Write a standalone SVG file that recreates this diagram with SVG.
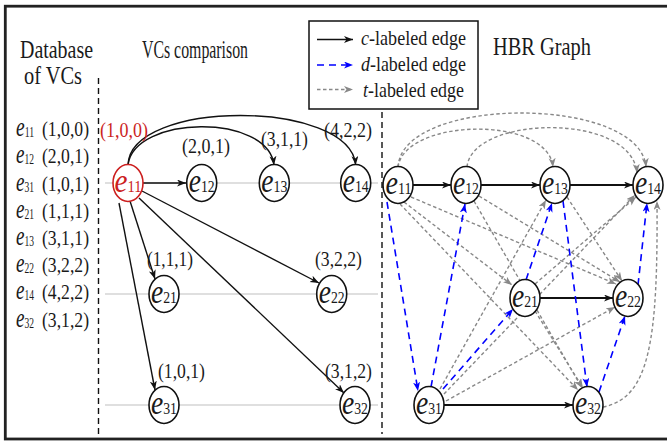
<svg xmlns="http://www.w3.org/2000/svg" width="667" height="442" viewBox="0 0 667 442">
<defs>
  <marker id="ahK" markerUnits="userSpaceOnUse" markerWidth="10" markerHeight="8" refX="9" refY="3.5" orient="auto"><path d="M0,0 L9,3.5 L0,7 L2.5,3.5 z" fill="#111"/></marker>
  <marker id="ahB" markerUnits="userSpaceOnUse" markerWidth="10" markerHeight="8" refX="9" refY="3.5" orient="auto"><path d="M0,0 L9,3.5 L0,7 L2.5,3.5 z" fill="#0000ff"/></marker>
  <marker id="ahG" markerUnits="userSpaceOnUse" markerWidth="10" markerHeight="8" refX="9" refY="3.5" orient="auto"><path d="M0,0 L9,3.5 L0,7 L2.5,3.5 z" fill="#888"/></marker>
</defs>
<style>
  text{font-family:"Liberation Serif","Times New Roman",serif;fill:#1a1a1a}
  .ttl{font-size:25px}
  .lg{font-size:21px}
  .vc{font-size:22px}
  .vi{font-size:28px;font-style:italic}
  .vs{font-size:14px}
  .lab{font-size:21px}
  .it{font-style:italic}
  .red{fill:#cc1f1f}
  .nd ellipse{fill:#fff;stroke:#111;stroke-width:1.6}
  .nd ellipse.hl{stroke:#cc1f1f}
  .nl{font-size:17px;text-anchor:middle}
  .nl .ev{font-size:34px;font-style:italic}
  .frame{fill:none;stroke:#222;stroke-width:2.8}
  .row{stroke:#d4d4d4;stroke-width:1.6}
  .sep{stroke:#111;stroke-width:1.4;stroke-dasharray:6 4;fill:none}
  .c{stroke:#111;stroke-width:1.4;fill:none;marker-end:url(#ahK)}
  .cc{stroke-width:2}
  .d{stroke:#0000ff;stroke-width:1.6;stroke-dasharray:7 5;fill:none;marker-end:url(#ahB)}
  .t{stroke:#888;stroke-width:1.4;stroke-dasharray:3.5 2.5;fill:none;marker-end:url(#ahG)}
</style>

<rect class="frame" x="5.3" y="6.2" width="665" height="432.8"/>

<!-- column separators -->
<g id="separators">
  <line class="sep" x1="98.5" y1="78" x2="98.5" y2="434"/>
  <line class="sep" x1="382" y1="112" x2="382" y2="434"/>
</g>

<!-- headings -->
<g id="headings">
  <text class="ttl" x="20" y="58" textLength="73" lengthAdjust="spacingAndGlyphs">Database</text>
  <text class="ttl" x="24" y="84" textLength="58" lengthAdjust="spacingAndGlyphs">of VCs</text>
  <text class="ttl" x="142" y="58" textLength="106" lengthAdjust="spacingAndGlyphs">VCs comparison</text>
  <text class="ttl" x="493" y="55" textLength="98" lengthAdjust="spacingAndGlyphs">HBR Graph</text>
</g>

<!-- vector clock table -->
<g id="vc-table">
  <text x="16" y="136" textLength="18" lengthAdjust="spacingAndGlyphs"><tspan class="vi">e</tspan><tspan class="vs" dy="1">11</tspan></text>
  <text class="vc" x="42" y="136" textLength="47" lengthAdjust="spacingAndGlyphs">(1,0,0)</text>
  <text x="16" y="163" textLength="18" lengthAdjust="spacingAndGlyphs"><tspan class="vi">e</tspan><tspan class="vs" dy="1">12</tspan></text>
  <text class="vc" x="42" y="163" textLength="47" lengthAdjust="spacingAndGlyphs">(2,0,1)</text>
  <text x="16" y="191" textLength="18" lengthAdjust="spacingAndGlyphs"><tspan class="vi">e</tspan><tspan class="vs" dy="1">31</tspan></text>
  <text class="vc" x="42" y="191" textLength="47" lengthAdjust="spacingAndGlyphs">(1,0,1)</text>
  <text x="16" y="218" textLength="18" lengthAdjust="spacingAndGlyphs"><tspan class="vi">e</tspan><tspan class="vs" dy="1">21</tspan></text>
  <text class="vc" x="42" y="218" textLength="47" lengthAdjust="spacingAndGlyphs">(1,1,1)</text>
  <text x="16" y="245" textLength="18" lengthAdjust="spacingAndGlyphs"><tspan class="vi">e</tspan><tspan class="vs" dy="1">13</tspan></text>
  <text class="vc" x="42" y="245" textLength="47" lengthAdjust="spacingAndGlyphs">(3,1,1)</text>
  <text x="16" y="272" textLength="18" lengthAdjust="spacingAndGlyphs"><tspan class="vi">e</tspan><tspan class="vs" dy="1">22</tspan></text>
  <text class="vc" x="42" y="272" textLength="47" lengthAdjust="spacingAndGlyphs">(3,2,2)</text>
  <text x="16" y="299" textLength="18" lengthAdjust="spacingAndGlyphs"><tspan class="vi">e</tspan><tspan class="vs" dy="1">14</tspan></text>
  <text class="vc" x="42" y="299" textLength="47" lengthAdjust="spacingAndGlyphs">(4,2,2)</text>
  <text x="16" y="327" textLength="18" lengthAdjust="spacingAndGlyphs"><tspan class="vi">e</tspan><tspan class="vs" dy="1">32</tspan></text>
  <text class="vc" x="42" y="327" textLength="47" lengthAdjust="spacingAndGlyphs">(3,1,2)</text>
</g>

<!-- legend -->
<g id="legend">
  <rect x="309" y="21" width="169" height="88" fill="#fff" stroke="#111" stroke-width="1.5"/>
  <line class="c" x1="317" y1="39.5" x2="353" y2="39.5"/>
  <line class="d" x1="317" y1="65" x2="353" y2="65" stroke-dasharray="6 3"/>
  <line class="t" x1="317" y1="89.5" x2="353" y2="89.5" stroke-dasharray="3 2"/>
  <text class="lg" x="361" y="45" textLength="105" lengthAdjust="spacingAndGlyphs"><tspan class="it">c</tspan>-labeled edge</text>
  <text class="lg" x="361" y="71" textLength="105" lengthAdjust="spacingAndGlyphs"><tspan class="it">d</tspan>-labeled edge</text>
  <text class="lg" x="363" y="97" textLength="101" lengthAdjust="spacingAndGlyphs"><tspan class="it">t</tspan>-labeled edge</text>
</g>

<!-- comparison rows -->
<g id="rows">
  <line class="row" x1="105" y1="183" x2="378" y2="183"/>
  <line class="row" x1="105" y1="294" x2="378" y2="294"/>
  <line class="row" x1="105" y1="405" x2="378" y2="405"/>
</g>

<!-- connectors -->
<g id="connectors">
  <!-- comparison of e11 with every other event -->
  <path class="c" d="M143,183 L186,183"/>
  <path class="c" d="M128,165 C134,115 268,113 274,165"/>
  <path class="c" d="M128,165 C130,99 350,99 355.7,165"/>
  <path class="c" d="M130,201 L155,279"/>
  <path class="c" d="M119,203 L155,390"/>
  <path class="c" d="M142,191 L319,283"/>
  <path class="c" d="M139,198 L344,393"/>

  <!-- HBR: c-labeled -->
  <path class="c cc" d="M413,185 L451,185"/>
  <path class="c cc" d="M481,185 L540,185"/>
  <path class="c cc" d="M570,185 L633,185"/>
  <path class="c cc" d="M540,298 L613,298"/>
  <path class="c cc" d="M444,405 L573,405"/>

  <!-- HBR: t-labeled -->
  <path class="t" d="M398,167 C405,118 548,115 553,167"/>
  <path class="t" d="M398,167 C402,95 640,95 646,167"/>
  <path class="t" d="M467,167 C472,115 632,112 637,173"/>
  <path class="t" d="M404,202 L512,285"/>
  <path class="t" d="M411,197 L616,284"/>
  <path class="t" d="M400,204 L578,390"/>
  <path class="t" d="M479,196 L620,282"/>
  <path class="t" d="M474,201 L582,388"/>
  <path class="t" d="M567,197 L622,281"/>
  <path class="t" d="M535,284 L636,197"/>
  <path class="t" d="M535,311 L583,388"/>
  <path class="t" d="M440,389 L546,200"/>
  <path class="t" d="M444,394 L635,195"/>
  <path class="t" d="M446,401 L615,307"/>
  <path class="t" d="M603,407 C650,398 658,340 657,201"/>

  <!-- HBR: d-labeled -->
  <path class="d" d="M387,202 L418,391"/>
  <path class="d" d="M431,387 L465,204"/>
  <path class="d" d="M443,389 L513,309"/>
  <path class="d" d="M526,280 L552,203"/>
  <path class="d" d="M563,201 L587,387"/>
  <path class="d" d="M599,392 L625,316"/>
  <path class="d" d="M638,285 L647,203"/>
</g>

<!-- comparison nodes -->
<g id="cmp-e11" class="nd">
  <ellipse class="hl" cx="128" cy="183" rx="15" ry="18.5"/>
  <text class="nl red" x="128" y="192" textLength="27" lengthAdjust="spacingAndGlyphs"><tspan class="ev red">e</tspan>11</text>
</g>
<text class="lab red" x="100" y="137" textLength="48" lengthAdjust="spacingAndGlyphs">(1,0,0)</text>
<g id="cmp-e12" class="nd">
  <ellipse cx="201.7" cy="183" rx="15" ry="18.5"/>
  <text class="nl" x="201.7" y="192" textLength="26" lengthAdjust="spacingAndGlyphs"><tspan class="ev">e</tspan>12</text>
  <text class="lab" x="182" y="153" textLength="48" lengthAdjust="spacingAndGlyphs">(2,0,1)</text>
</g>
<g id="cmp-e13" class="nd">
  <ellipse cx="274.3" cy="183" rx="15" ry="18.5"/>
  <text class="nl" x="274.3" y="192" textLength="26" lengthAdjust="spacingAndGlyphs"><tspan class="ev">e</tspan>13</text>
  <text class="lab" x="261" y="146" textLength="47" lengthAdjust="spacingAndGlyphs">(3,1,1)</text>
</g>
<g id="cmp-e14" class="nd">
  <ellipse cx="355.7" cy="183" rx="15" ry="18.5"/>
  <text class="nl" x="355.7" y="192" textLength="26" lengthAdjust="spacingAndGlyphs"><tspan class="ev">e</tspan>14</text>
  <text class="lab" x="324" y="137" textLength="48" lengthAdjust="spacingAndGlyphs">(4,2,2)</text>
</g>
<g id="cmp-e21" class="nd">
  <ellipse cx="164" cy="294" rx="15" ry="18.5"/>
  <text class="nl" x="164" y="303" textLength="26" lengthAdjust="spacingAndGlyphs"><tspan class="ev">e</tspan>21</text>
  <text class="lab" x="147" y="266" textLength="46" lengthAdjust="spacingAndGlyphs">(1,1,1)</text>
</g>
<g id="cmp-e22" class="nd">
  <ellipse cx="331.7" cy="294" rx="15" ry="18.5"/>
  <text class="nl" x="331.7" y="303" textLength="26" lengthAdjust="spacingAndGlyphs"><tspan class="ev">e</tspan>22</text>
  <text class="lab" x="315" y="266" textLength="47" lengthAdjust="spacingAndGlyphs">(3,2,2)</text>
</g>
<g id="cmp-e31" class="nd">
  <ellipse cx="164" cy="405" rx="15" ry="18.5"/>
  <text class="nl" x="164" y="414" textLength="26" lengthAdjust="spacingAndGlyphs"><tspan class="ev">e</tspan>31</text>
  <text class="lab" x="158" y="378" textLength="47" lengthAdjust="spacingAndGlyphs">(1,0,1)</text>
</g>
<g id="cmp-e32" class="nd">
  <ellipse cx="355" cy="405" rx="15" ry="18.5"/>
  <text class="nl" x="355" y="414" textLength="26" lengthAdjust="spacingAndGlyphs"><tspan class="ev">e</tspan>32</text>
  <text class="lab" x="325" y="378" textLength="47" lengthAdjust="spacingAndGlyphs">(3,1,2)</text>
</g>

<!-- HBR graph nodes -->
<g id="hbr-e11" class="nd">
  <ellipse cx="398" cy="185" rx="15" ry="18.5"/>
  <text class="nl" x="398.5" y="194" textLength="26" lengthAdjust="spacingAndGlyphs"><tspan class="ev">e</tspan>11</text>
</g>
<g id="hbr-e12" class="nd">
  <ellipse cx="466" cy="185" rx="15" ry="18.5"/>
  <text class="nl" x="466" y="194" textLength="26" lengthAdjust="spacingAndGlyphs"><tspan class="ev">e</tspan>12</text>
</g>
<g id="hbr-e13" class="nd">
  <ellipse cx="555" cy="185" rx="15" ry="18.5"/>
  <text class="nl" x="555" y="194" textLength="26" lengthAdjust="spacingAndGlyphs"><tspan class="ev">e</tspan>13</text>
</g>
<g id="hbr-e14" class="nd">
  <ellipse cx="648" cy="185" rx="15" ry="18.5"/>
  <text class="nl" x="648" y="194" textLength="26" lengthAdjust="spacingAndGlyphs"><tspan class="ev">e</tspan>14</text>
</g>
<g id="hbr-e21" class="nd">
  <ellipse cx="525" cy="298" rx="15" ry="18.5"/>
  <text class="nl" x="525" y="307" textLength="26" lengthAdjust="spacingAndGlyphs"><tspan class="ev">e</tspan>21</text>
</g>
<g id="hbr-e22" class="nd">
  <ellipse cx="628" cy="298" rx="15" ry="18.5"/>
  <text class="nl" x="628" y="307" textLength="26" lengthAdjust="spacingAndGlyphs"><tspan class="ev">e</tspan>22</text>
</g>
<g id="hbr-e31" class="nd">
  <ellipse cx="429" cy="405" rx="15" ry="18.5"/>
  <text class="nl" x="429" y="414" textLength="26" lengthAdjust="spacingAndGlyphs"><tspan class="ev">e</tspan>31</text>
</g>
<g id="hbr-e32" class="nd">
  <ellipse cx="588" cy="405" rx="15" ry="18.5"/>
  <text class="nl" x="588" y="414" textLength="26" lengthAdjust="spacingAndGlyphs"><tspan class="ev">e</tspan>32</text>
</g>
</svg>
